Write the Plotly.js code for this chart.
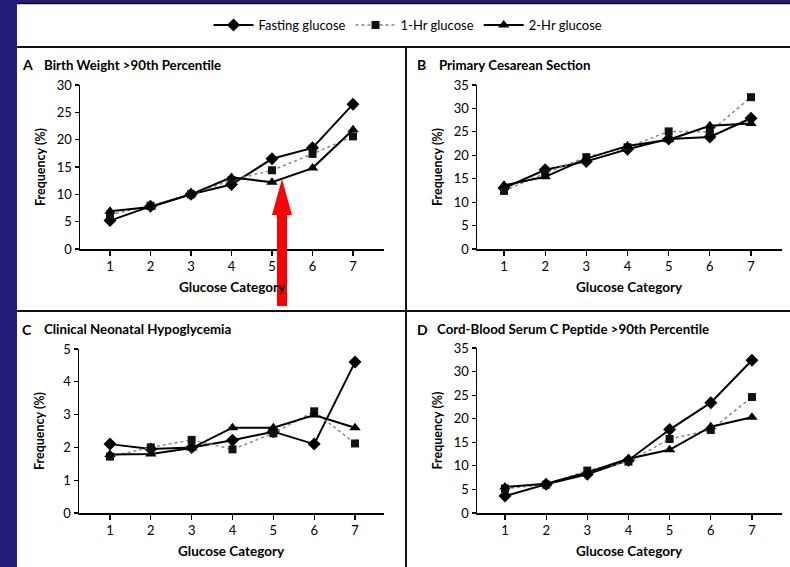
<!DOCTYPE html>
<html>
<head>
<meta charset="utf-8">
<script src="https://cdn.plot.ly/plotly-3.0.1.min.js"></script>
<style>html,body{margin:0;padding:0;background:#fff;}#chart{width:790px;height:567px;}</style>
</head>
<body>
<div id="chart"></div>
<script>
// ---- data ----
const categories = [1, 2, 3, 4, 5, 6, 7];
const seriesNames = ["Fasting glucose", "1-Hr glucose", "2-Hr glucose"];

const birthFasting = [5.2, 7.8, 10.0, 11.8, 16.5, 18.5, 26.5];
const birth1Hr     = [6.3, 7.9, 10.0, 12.6, 14.4, 17.4, 20.6];
const birth2Hr     = [6.9, 7.7, 10.0, 13.1, 12.2, 14.8, 21.8];

const cesFasting = [13.0, 16.9, 18.7, 21.3, 23.5, 23.9, 27.9];
const ces1Hr     = [12.4, 16.2, 19.6, 21.7, 25.1, 25.0, 32.4];
const ces2Hr     = [13.6, 15.4, 19.3, 22.0, 23.3, 26.3, 26.8];

const hypoFasting = [2.1, 1.95, 2.0, 2.22, 2.48, 2.1, 4.6];
const hypo1Hr     = [1.72, 2.0, 2.23, 1.94, 2.43, 3.1, 2.12];
const hypo2Hr     = [1.78, 1.8, 1.98, 2.6, 2.6, 2.99, 2.6];

const cpepFasting = [3.6, 6.1, 8.2, 11.2, 17.7, 23.4, 32.4];
const cpep1Hr     = [5.2, 6.0, 9.0, 10.9, 15.7, 17.6, 24.6];
const cpep2Hr     = [5.5, 6.2, 8.6, 11.5, 13.4, 18.3, 20.3];

const panelLetters = ["A", "B", "C", "D"];
const panelTitles = ["Birth Weight >90th Percentile", "Primary Cesarean Section",
                     "Clinical Neonatal Hypoglycemia", "Cord-Blood Serum C Peptide >90th Percentile"];
const yTickVals = [[0,5,10,15,20,25,30],[0,5,10,15,20,25,30,35],[0,1,2,3,4,5],[0,5,10,15,20,25,30,35]];
const yRanges = [[0,30],[0,35],[0,5],[0,35]];
const xAxisTitle = "Glucose Category";
const yAxisTitle = "Frequency (%)";

// ---- layout helpers (pixel -> paper) ----
const W = 790, H = 567;
const px = x => x / W;
const py = y => 1 - y / H;

const FONT = "Lato, 'Open Sans', sans-serif";
const panels = [
  {vals:[birthFasting, birth1Hr, birth2Hr], x0:80,  x1:384, yTop:85,  yBot:249, xr:[0.259,7.765], titleX:[20,42],  titleY:65},
  {vals:[cesFasting, ces1Hr, ces2Hr],       x0:477, x1:782, yTop:85,  yBot:249, xr:[0.344,7.753], titleX:[415,437], titleY:65},
  {vals:[hypoFasting, hypo1Hr, hypo2Hr],    x0:79,  x1:384, yTop:349, yBot:513, xr:[0.241,7.71],  titleX:[20,42],  titleY:329},
  {vals:[cpepFasting, cpep1Hr, cpep2Hr],    x0:477, x1:782, yTop:348, yBot:513, xr:[0.32,7.73],   titleX:[415,435], titleY:329}
];

const styles = [
  {line:{color:"#000", width:2}, marker:{symbol:"diamond", size:10, color:"#000"}},
  {line:{color:"#888", width:1.5, dash:"dot"}, marker:{symbol:"square", size:8, color:"#111"}},
  {line:{color:"#000", width:2}, marker:{symbol:"triangle-up", size:10, color:"#000"}}
];

const traces = [];
const layout = {
  width: W, height: H,
  margin: {l:0, r:0, t:0, b:0},
  paper_bgcolor: "#fff",
  plot_bgcolor: "rgba(0,0,0,0)",
  font: {family: FONT, size: 12, color: "#000"},
  showlegend: true,
  legend: {orientation:"h", x:px(408), xanchor:"center", y:py(25), yanchor:"middle",
           font:{family:FONT, size:13, color:"#000"}, bgcolor:"rgba(0,0,0,0)", itemwidth:40, tracegroupgap:0},
  annotations: [],
  shapes: []
};

panels.forEach((p, i) => {
  const n = i + 1;
  const xa = "xaxis" + (n === 1 ? "" : n), ya = "yaxis" + (n === 1 ? "" : n);
  const xref = "x" + (n === 1 ? "" : n), yref = "y" + (n === 1 ? "" : n);
  layout[xa] = {
    domain:[px(p.x0), px(p.x1)], range:p.xr, anchor:yref,
    tickvals:categories, ticktext:categories.map(String),
    showgrid:false, zeroline:false, showline:true, linecolor:"#000", linewidth:1.5,
    ticks:"outside", ticklen:5, tickwidth:1.2, tickcolor:"#000",
    tickfont:{family:FONT, size:13, color:"#000"}
  };
  layout[ya] = {
    domain:[py(p.yBot), py(p.yTop)], range:yRanges[i], anchor:xref,
    tickvals:yTickVals[i], showgrid:false, zeroline:false, showline:true, linecolor:"#000", linewidth:1.5,
    ticks:"outside", ticklen:4, tickwidth:1.2, tickcolor:"#000",
    tickfont:{family:FONT, size:13, color:"#000"}
  };
  p.vals.forEach((v, s) => {
    traces.push({
      x: categories, y: v, xaxis:xref, yaxis:yref, type:"scatter", mode:"lines+markers",
      name: seriesNames[s], line: styles[s].line, marker: styles[s].marker,
      showlegend: i === 0, legendgroup: seriesNames[s], cliponaxis:false
    });
  });
  // panel titles
  layout.annotations.push({text:"<b>"+panelLetters[i]+"</b>", xref:"paper", yref:"paper", x:px(p.titleX[0]), y:py(p.titleY),
    xanchor:"left", yanchor:"middle", showarrow:false, font:{family:FONT, size:14, color:"#000"}});
  layout.annotations.push({text:"<b>"+panelTitles[i]+"</b>", xref:"paper", yref:"paper", x:px(p.titleX[1]), y:py(p.titleY),
    xanchor:"left", yanchor:"middle", showarrow:false, font:{family:FONT, size:13.3, color:"#000"}});
  // axis titles
  layout.annotations.push({text:"<b>"+xAxisTitle+"</b>", xref:"paper", yref:"paper", x:px((p.x0+p.x1)/2), y:py(p.yBot+38),
    xanchor:"center", yanchor:"middle", showarrow:false, font:{family:FONT, size:13.5, color:"#000"}});
  layout.annotations.push({text:"<b>"+yAxisTitle+"</b>", xref:"paper", yref:"paper", x:px(p.x0-40), y:py((p.yTop+p.yBot)/2),
    xanchor:"center", yanchor:"middle", textangle:-90, showarrow:false, font:{family:FONT, size:12.5, color:"#000"}});
});

// background frame: blue stripes & divider lines
const blue = "#211d79";
layout.shapes.push({type:"rect", xref:"paper", yref:"paper", x0:0, x1:px(17), y0:0, y1:1, fillcolor:blue, line:{width:0}, layer:"below"});
layout.shapes.push({type:"rect", xref:"paper", yref:"paper", x0:0, x1:1, y0:py(3), y1:1, fillcolor:blue, line:{width:0}, layer:"below"});
layout.shapes.push({type:"line", xref:"paper", yref:"paper", x0:px(17), x1:1, y0:py(3.5), y1:py(3.5), line:{color:"#111", width:1.5}});
layout.shapes.push({type:"line", xref:"paper", yref:"paper", x0:px(17), x1:1, y0:py(47), y1:py(47), line:{color:"#111", width:2}});
layout.shapes.push({type:"line", xref:"paper", yref:"paper", x0:px(17), x1:1, y0:py(311), y1:py(311), line:{color:"#111", width:2}});
layout.shapes.push({type:"line", xref:"paper", yref:"paper", x0:px(406), x1:px(406), y0:0, y1:py(47), line:{color:"#111", width:2}});

// red arrow overlay drawn as a shape path
const arrowPts = [[282,179],[292,215],[287,215],[287,306],[277,306],[277,215],[272,215]];
layout.shapes.push({type:"path", xref:"paper", yref:"paper", layer:"above",
  path: "M " + arrowPts.map(q => px(q[0]).toFixed(5) + "," + py(q[1]).toFixed(5)).join(" L ") + " Z",
  fillcolor:"#ff0000", line:{width:0}});

Plotly.newPlot("chart", traces, layout, {displayModeBar:false, staticPlot:true});
</script>
</body>
</html>
